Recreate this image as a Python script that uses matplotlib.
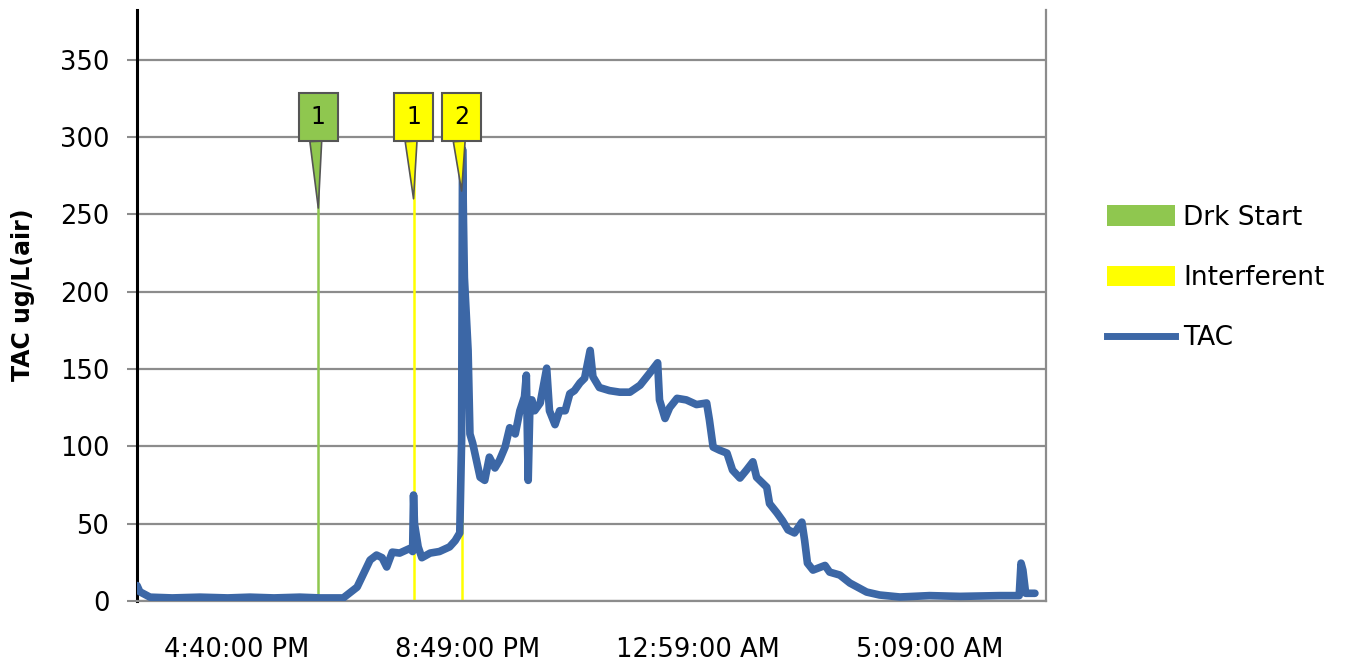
import matplotlib
matplotlib.use("Agg")
import matplotlib.pyplot as plt
from matplotlib.patches import Patch
from matplotlib.lines import Line2D

# TAC readings (clock time, ug/L air), overnight session
tac_time = [
    "14:52", "14:55", "15:06", "15:30", "16:00", "16:30", "16:54", "17:20", "17:48", "18:10",
    "18:35", "18:50", "19:04", "19:11", "19:17", "19:22", "19:28", "19:36", "19:47", "19:50",
    "19:51", "19:52", "19:56", "20:00", "20:09", "20:19", "20:30", "20:36", "20:41", "20:43",
    "20:44", "20:45", "20:46", "20:50", "20:52", "20:55", "21:03", "21:08", "21:13", "21:19",
    "21:24", "21:30", "21:35", "21:41", "21:46", "21:51", "21:53", "21:55", "21:57", "21:59",
    "22:02", "22:08", "22:15", "22:18", "22:24", "22:29", "22:35", "22:40", "22:45", "22:51",
    "22:56", "23:02", "23:05", "23:12", "23:23", "23:34", "23:45", "23:56", "00:06", "00:15",
    "00:17", "00:23", "00:28", "00:36", "00:46", "00:57", "01:08", "01:11", "01:15", "01:22",
    "01:30", "01:36", "01:44", "01:51", "01:58", "02:02", "02:13", "02:16", "02:24", "02:30",
    "02:36", "02:43", "02:51", "02:54", "02:57", "03:03", "03:16", "03:21", "03:32", "03:43",
    "04:01", "04:15", "04:37", "05:09", "05:42", "06:25", "06:46", "06:48", "06:50", "06:53", "07:03",
]
tac_value = [
    10, 6, 2.5, 2, 2.5, 2, 2.5, 2, 2.5, 2,
    2, 9, 26.5, 29.7, 28, 22, 31.6, 31, 34, 32,
    68.5, 50, 35, 28, 31, 32, 35, 39, 44, 104,
    292, 246, 209, 162, 108, 102, 80, 78, 93, 86,
    91, 99.5, 112, 108, 123, 132, 146, 78, 130, 130,
    123, 128, 150.5, 123, 114, 123, 123, 134, 136, 141,
    144, 162, 145, 138, 136, 135, 135, 139.5, 147, 154,
    130, 118, 125, 131, 130, 127, 128, 117, 99.5, 97.5,
    95.6, 84.6, 79.5, 84.6, 90, 80, 73.6, 63, 57, 52,
    46, 44, 51, 39, 24.5, 20, 23, 18.7, 16.8, 11.6,
    5.8, 3.9, 2.6, 3.5, 3, 3.5, 3.5, 24.5, 20, 5, 5,
]

# event markers
drk_time = ["18:08"]
drk_label = ["1"]
drk_tip = [254]
intf_time = ["19:51", "20:43"]
intf_label = ["1", "2"]
intf_tip = [260, 265]
marker_top = 290
callout_y = 313

tick_time = ["16:40", "20:49", "00:59", "05:09"]
tick_label = ["4:40:00 PM", "8:49:00 PM", "12:59:00 AM", "5:09:00 AM"]

blue = "#3c67a6"
green = "#8fc74f"
yellow = "#ffff00"
grid_gray = "#8c8c8c"


def to_hours(s):
    hh, mm = s.split(":")
    h = int(hh) + int(mm) / 60
    return h + 24 if h < 12 else h


fig = plt.figure(figsize=(13.53, 6.69), dpi=100)
ax = fig.add_axes([0.1013, 0.1016, 0.6718, 0.8834])

ax.set_xlim(to_hours("14:52"), to_hours("07:15"))
ax.set_ylim(0, 382)
ax.set_yticks(range(0, 351, 50))
ax.set_xticks([to_hours(t) for t in tick_time], tick_label)
ax.grid(axis="y", color=grid_gray, lw=1.6)
ax.set_axisbelow(True)

ax.vlines([to_hours(t) for t in drk_time], 0, marker_top, color=green, lw=1.8, zorder=2)
ax.vlines([to_hours(t) for t in intf_time], 0, marker_top, color=yellow, lw=1.8, zorder=2)

ax.plot([to_hours(t) for t in tac_time], tac_value, color=blue, lw=5.5,
        solid_joinstyle="round", solid_capstyle="round", zorder=3)

callouts = [(l, t, p, green) for l, t, p in zip(drk_label, drk_time, drk_tip)]
callouts += [(l, t, p, yellow) for l, t, p in zip(intf_label, intf_time, intf_tip)]
for label, t, tip, col in callouts:
    x = to_hours(t)
    ax.annotate(label, xy=(x, tip), xytext=(x, callout_y), ha="center", va="center",
                fontsize=17, zorder=5,
                bbox=dict(boxstyle="square,pad=0.5", fc=col, ec="#555555", lw=1.5),
                arrowprops=dict(arrowstyle="wedge,tail_width=0.5,shrink_factor=0.5",
                                fc=col, ec="#555555", lw=1.2, relpos=(0.3, 0),
                                shrinkA=0, shrinkB=0))

ax.spines["top"].set_visible(False)
ax.spines["left"].set_color("black")
ax.spines["left"].set_linewidth(2.2)
ax.spines["right"].set_color(grid_gray)
ax.spines["right"].set_linewidth(1.6)
ax.spines["bottom"].set_color(grid_gray)
ax.spines["bottom"].set_linewidth(1.6)

ax.tick_params(axis="y", length=7, width=1.5, color=grid_gray, pad=13, labelsize=18.5)
ax.tick_params(axis="x", length=0, pad=26, labelsize=18.5)

ax.set_ylabel("TAC ug/L(air)", fontsize=17, fontweight="bold", va="center")
ax.yaxis.set_label_coords(-0.125, 0.519)

handles = [Patch(fc=green), Patch(fc=yellow), Line2D([], [], color=blue, lw=5)]
fig.legend(handles, ["Drk Start", "Interferent", "TAC"], loc="center left",
           bbox_to_anchor=(0.818, 0.5845), frameon=False, fontsize=19,
           handlelength=2.6, handleheight=0.8, handletextpad=0.3,
           labelspacing=1.3, borderpad=0, borderaxespad=0)

fig.savefig("out.png", dpi=100)
